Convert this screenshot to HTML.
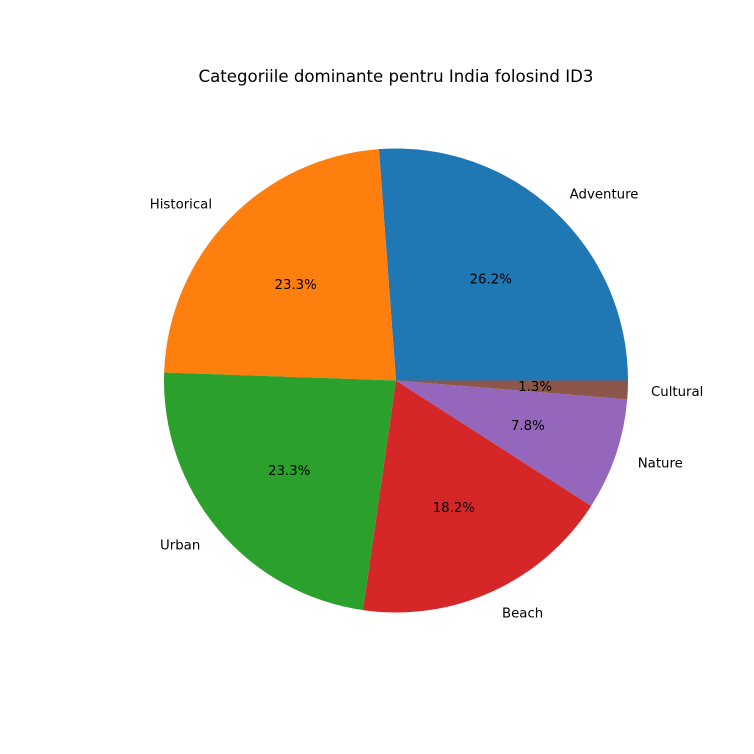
<!DOCTYPE html>
<html><head><meta charset="utf-8"><style>
body{margin:0;background:#fff;overflow:hidden;}
svg{display:block;}
svg text{font-family:"DejaVu Sans","Liberation Sans",sans-serif;font-size:13.3px;fill:#000;}
</style></head><body>
<svg id="chart" width="754" height="754" xmlns="http://www.w3.org/2000/svg">
<rect width="754" height="754" fill="#fff"/>
<text x="396" y="82" text-anchor="middle" style="font-size:16.6px">Categoriile dominante pentru India folosind ID3</text>
<g id="slices"></g>
</svg>
<script>
const categories=["Adventure","Historical","Urban","Beach","Nature","Cultural"];
const values=[26.2,23.3,23.3,18.2,7.8,1.3];
const colors=["#1f77b4","#ff7f0e","#2ca02c","#d62728","#9467bd","#8c564b"];
const cx=396,cy=380.5,R=232;
const g=document.getElementById('slices');
const NS="http://www.w3.org/2000/svg";
const total=values.reduce((a,b)=>a+b,0);
let a0=0;
values.forEach((v,i)=>{
  const a1=a0+v/total*2*Math.PI;
  const x0=cx+R*Math.cos(a0),y0=cy-R*Math.sin(a0);
  const x1=cx+R*Math.cos(a1),y1=cy-R*Math.sin(a1);
  const p=document.createElementNS(NS,'path');
  p.setAttribute('d',`M${cx},${cy}L${x0},${y0}A${R},${R} 0 ${a1-a0>Math.PI?1:0} 0 ${x1},${y1}Z`);
  p.setAttribute('fill',colors[i]);
  
  
  g.appendChild(p);
  const m=(a0+a1)/2,c=Math.cos(m),s=Math.sin(m);
  const lt=document.createElementNS(NS,'text');
  lt.setAttribute('x',cx+1.1*R*c);lt.setAttribute('y',cy-1.1*R*s+5);
  lt.setAttribute('text-anchor',c>=0?'start':'end');
  lt.textContent=categories[i];
  
  
  g.appendChild(lt);
  const pt=document.createElementNS(NS,'text');
  pt.setAttribute('x',cx+0.6*R*c);pt.setAttribute('y',cy-0.6*R*s+5);
  pt.setAttribute('text-anchor','middle');
  pt.textContent=(v/total*100).toFixed(1)+'%';
  
  
  g.appendChild(pt);
  a0=a1;
});
</script>
</body></html>
